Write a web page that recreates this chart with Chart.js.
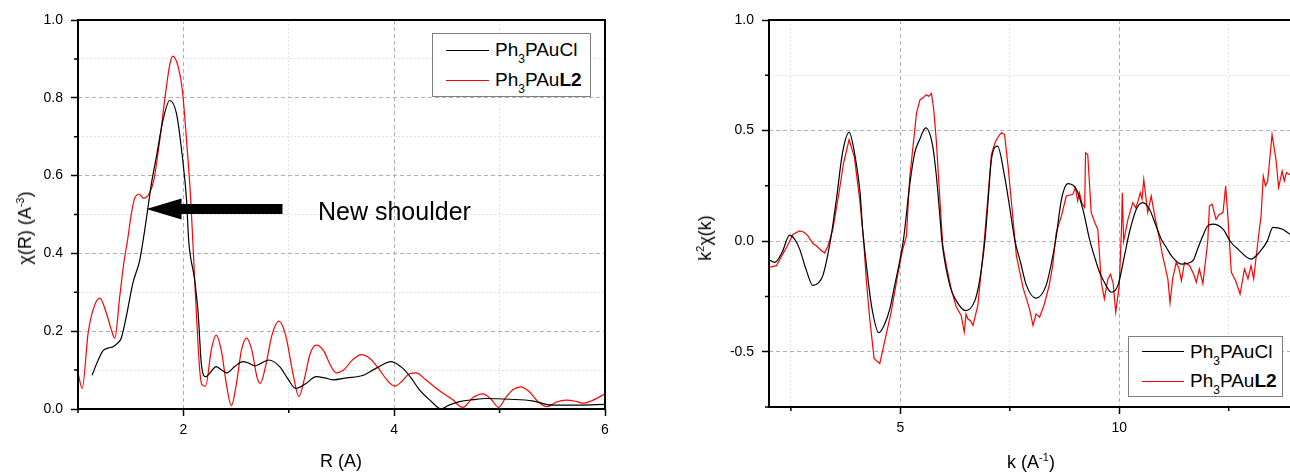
<!DOCTYPE html>
<html>
<head>
<meta charset="utf-8">
<script src="https://cdn.jsdelivr.net/npm/chart.js@4.4.1/dist/chart.umd.min.js"></script>
<style>
body { margin: 0; background: #fff; }
#wrap { position: relative; width: 1290px; height: 473px; overflow: hidden; font-family: "Liberation Sans", Arial, sans-serif; color: #000; }
canvas { position: absolute; top: 0; }
.t { position: absolute; white-space: nowrap; line-height: 1; font-size: 18px; }
.t sup { font-size: 11px; vertical-align: 7px; line-height: 0; }
.vt { transform: translate(-50%, -50%) rotate(-90deg); }
.leg { position: absolute; border: 1px solid #808080; background: #fff; box-sizing: border-box; }
.leg .ln { position: absolute; height: 0; border-top: 1.5px solid; }
.leg .tx { position: absolute; font-size: 19px; line-height: 19px; white-space: nowrap; }
.leg sub { font-size: 12px; vertical-align: -7px; line-height: 0; }
</style>
</head>
<body>
<div id="wrap">
  <canvas id="left" width="640" height="473" style="left:0"></canvas>
  <canvas id="right" width="600" height="473" style="left:690px"></canvas>

  <div class="t" style="left:341px;top:452px;transform:translateX(-50%)">R (A)</div>
  <div class="t vt" style="left:25px;top:228px">&chi;(R) (A<sup>-3</sup>)</div>
  <div class="t" style="left:1031px;top:453px;transform:translateX(-50%)">k (A<sup>-1</sup>)</div>
  <div class="t vt" style="left:705px;top:238px">k<sup>2</sup>&chi;(k)</div>

  <div class="t" style="left:318px;top:196px;font-size:25px;line-height:30px">New shoulder</div>

  <div class="leg" style="left:432px;top:33px;width:159px;height:64px">
    <div class="ln" style="left:13px;top:16px;width:43px;border-color:#000"></div>
    <div class="tx" style="left:62px;top:6px">Ph<sub>3</sub>PAuCl</div>
    <div class="ln" style="left:13px;top:46px;width:43px;border-color:#ff0000"></div>
    <div class="tx" style="left:62px;top:36px">Ph<sub>3</sub>PAu<b>L2</b></div>
  </div>
  <div class="leg" style="left:1128px;top:336px;width:155px;height:61px">
    <div class="ln" style="left:13px;top:14px;width:42px;border-color:#000"></div>
    <div class="tx" style="left:61px;top:5px">Ph<sub>3</sub>PAuCl</div>
    <div class="ln" style="left:13px;top:44px;width:42px;border-color:#ff0000"></div>
    <div class="tx" style="left:61px;top:34px">Ph<sub>3</sub>PAu<b>L2</b></div>
  </div>
</div>
<script>
// chi(R), Fourier transform magnitude
const clR = [[1.134,0.087],[1.19,0.125],[1.238,0.15],[1.29,0.157],[1.333,0.16],[1.37,0.168],[1.41,0.182],[1.46,0.24],[1.52,0.323],[1.586,0.383],[1.633,0.46],[1.665,0.52],[1.70,0.585],[1.744,0.649],[1.807,0.743],[1.87,0.793],[1.934,0.76],[1.99,0.649],[2.03,0.537],[2.05,0.434],[2.107,0.332],[2.14,0.246],[2.17,0.117],[2.21,0.083],[2.26,0.095],[2.31,0.109],[2.36,0.101],[2.41,0.093],[2.49,0.11],[2.565,0.122],[2.62,0.118],[2.676,0.111],[2.74,0.118],[2.81,0.126],[2.913,0.109],[2.99,0.078],[3.065,0.053],[3.16,0.065],[3.26,0.083],[3.34,0.08],[3.42,0.075],[3.55,0.08],[3.70,0.086],[3.83,0.105],[3.97,0.122],[4.08,0.105],[4.16,0.08],[4.24,0.049],[4.35,0.02],[4.445,0.0],[4.52,0.01],[4.62,0.019],[4.75,0.024],[4.87,0.027],[5.1,0.025],[5.31,0.021],[5.50,0.01],[5.75,0.01],[6.0,0.012]];
const l2R = [[1.0,0.093],[1.04,0.053],[1.096,0.195],[1.143,0.255],[1.207,0.285],[1.27,0.246],[1.317,0.203],[1.349,0.182],[1.396,0.289],[1.434,0.374],[1.47,0.434],[1.507,0.503],[1.538,0.542],[1.58,0.552],[1.62,0.542],[1.68,0.556],[1.72,0.589],[1.775,0.69],[1.83,0.81],[1.87,0.884],[1.90,0.907],[1.95,0.88],[1.99,0.82],[2.03,0.69],[2.07,0.537],[2.107,0.332],[2.155,0.10],[2.177,0.062],[2.21,0.059],[2.265,0.152],[2.31,0.19],[2.36,0.15],[2.41,0.06],[2.455,0.008],[2.50,0.06],[2.55,0.15],[2.60,0.182],[2.65,0.15],[2.70,0.08],[2.73,0.066],[2.78,0.11],[2.84,0.19],[2.906,0.226],[2.97,0.19],[3.04,0.09],[3.096,0.032],[3.15,0.08],[3.20,0.14],[3.26,0.164],[3.33,0.15],[3.387,0.117],[3.45,0.093],[3.52,0.1],[3.60,0.125],[3.687,0.14],[3.77,0.13],[3.85,0.105],[3.93,0.075],[4.003,0.059],[4.07,0.07],[4.14,0.09],[4.21,0.093],[4.30,0.075],[4.43,0.047],[4.55,0.025],[4.65,0.004],[4.75,0.03],[4.84,0.039],[4.92,0.025],[4.99,0.004],[5.06,0.03],[5.13,0.05],[5.20,0.057],[5.28,0.045],[5.36,0.02],[5.45,0.006],[5.54,0.018],[5.63,0.023],[5.72,0.02],[5.79,0.015],[5.88,0.022],[6.0,0.039]];

// k^2 chi(k)
const clK = [[2.0,-0.084],[2.13,-0.096],[2.3,-0.05],[2.47,0.027],[2.58,0.01],[2.70,-0.036],[2.85,-0.13],[3.0,-0.2],[3.12,-0.19],[3.23,-0.156],[3.40,0.0],[3.54,0.19],[3.68,0.40],[3.83,0.492],[3.97,0.38],[4.08,0.22],[4.14,0.05],[4.22,-0.1],[4.34,-0.29],[4.51,-0.414],[4.63,-0.38],[4.76,-0.306],[4.87,-0.2],[4.98,-0.096],[5.08,0.02],[5.21,0.249],[5.33,0.40],[5.44,0.459],[5.58,0.512],[5.74,0.429],[5.82,0.30],[5.90,0.12],[5.95,0.0],[6.13,-0.2],[6.28,-0.27],[6.49,-0.314],[6.70,-0.27],[6.80,-0.19],[6.93,0.0],[7.0,0.17],[7.08,0.369],[7.22,0.43],[7.38,0.294],[7.50,0.15],[7.61,0.009],[7.75,-0.1],[7.88,-0.2],[8.10,-0.258],[8.33,-0.2],[8.45,-0.1],[8.56,0.02],[8.68,0.189],[8.83,0.26],[9.02,0.234],[9.17,0.144],[9.32,0.009],[9.45,-0.08],[9.55,-0.141],[9.66,-0.186],[9.82,-0.231],[9.97,-0.2],[10.12,-0.066],[10.22,0.03],[10.39,0.144],[10.54,0.174],[10.69,0.144],[10.84,0.069],[10.96,0.009],[11.08,-0.03],[11.19,-0.066],[11.42,-0.104],[11.68,-0.089],[11.80,-0.03],[11.91,0.024],[12.02,0.069],[12.14,0.077],[12.37,0.054],[12.55,-0.005],[12.71,-0.036],[13.01,-0.081],[13.20,-0.051],[13.38,0.0],[13.51,0.062],[13.73,0.054],[13.9,0.031]];
const l2K = [[2.0,-0.119],[2.17,-0.111],[2.28,-0.07],[2.40,-0.029],[2.55,0.031],[2.70,0.046],[2.80,0.04],[2.89,0.024],[3.0,-0.01],[3.08,-0.021],[3.18,-0.04],[3.27,-0.054],[3.35,-0.021],[3.46,0.054],[3.6,0.22],[3.70,0.35],[3.83,0.459],[3.95,0.38],[4.07,0.19],[4.16,0.009],[4.22,-0.171],[4.30,-0.35],[4.40,-0.53],[4.53,-0.554],[4.64,-0.456],[4.79,-0.321],[4.95,-0.141],[5.05,-0.04],[5.14,0.024],[5.21,0.279],[5.37,0.58],[5.45,0.64],[5.52,0.648],[5.59,0.662],[5.65,0.655],[5.71,0.667],[5.76,0.6],[5.82,0.459],[5.90,0.2],[5.97,-0.021],[6.06,-0.12],[6.16,-0.216],[6.28,-0.299],[6.39,-0.336],[6.46,-0.411],[6.50,-0.33],[6.54,-0.351],[6.60,-0.36],[6.66,-0.381],[6.77,-0.291],[6.92,0.009],[7.00,0.2],[7.08,0.392],[7.17,0.45],[7.27,0.482],[7.31,0.49],[7.38,0.482],[7.46,0.339],[7.55,0.15],[7.65,-0.066],[7.80,-0.209],[7.95,-0.306],[8.03,-0.381],[8.10,-0.33],[8.18,-0.344],[8.29,-0.284],[8.40,-0.2],[8.48,-0.111],[8.56,0.039],[8.68,0.114],[8.79,0.204],[8.94,0.212],[9.00,0.242],[9.05,0.182],[9.09,0.219],[9.15,0.17],[9.21,0.152],[9.23,0.40],[9.28,0.392],[9.36,0.129],[9.45,0.08],[9.51,0.054],[9.59,-0.186],[9.66,-0.261],[9.74,-0.171],[9.80,-0.15],[9.86,-0.19],[9.92,-0.321],[10.0,-0.2],[10.05,0.05],[10.07,0.219],[10.10,0.0],[10.2,0.1],[10.31,0.174],[10.38,0.15],[10.43,0.182],[10.48,0.219],[10.52,0.19],[10.56,0.279],[10.65,0.129],[10.73,0.204],[10.81,0.114],[10.92,0.009],[10.99,-0.066],[11.11,-0.171],[11.16,-0.279],[11.22,-0.171],[11.30,-0.096],[11.36,-0.12],[11.42,-0.179],[11.49,-0.096],[11.61,-0.111],[11.70,-0.15],[11.76,-0.186],[11.83,-0.126],[11.91,-0.193],[12.02,-0.006],[12.06,0.159],[12.12,0.167],[12.21,0.099],[12.28,0.12],[12.37,0.129],[12.43,0.249],[12.48,0.114],[12.56,-0.141],[12.66,-0.18],[12.76,-0.239],[12.86,-0.126],[12.94,-0.171],[13.01,-0.111],[13.07,-0.171],[13.13,-0.066],[13.20,0.054],[13.24,0.114],[13.29,0.294],[13.34,0.25],[13.39,0.272],[13.49,0.482],[13.58,0.369],[13.64,0.242],[13.72,0.317],[13.77,0.272],[13.82,0.31],[13.9,0.3]];

// arrow annotation (data coords): tail -> tip
const arrowTail = [2.94, 0.514];
const arrowTip = [1.65, 0.514];

const pts = a => a.map(p => ({x: p[0], y: p[1]}));
const tickFont = {family: 'Liberation Sans', size: 14};

function axis(min, max, step, isMajor, fmt, size, horiz) {
    return {
        type: 'linear', min: min, max: max,
        afterFit: s => { if (horiz) s.height = size; else s.width = size; },
        ticks: {
            stepSize: step, includeBounds: false, autoSkip: false, maxRotation: 0,
            color: '#000', font: tickFont, padding: horiz ? 6 : 8,
            callback: v => isMajor(v) ? fmt(v) : ''
        },
        grid: {
            color: c => isMajor(c.tick.value) ? '#b0b0b0' : '#e2e2e2',
            lineWidth: 1, tickLength: 7, tickWidth: 1.5,
            tickColor: c => isMajor(c.tick.value) ? '#000' : 'rgba(0,0,0,0)'
        },
        border: {display: false, dash: c => isMajor(c.tick.value) ? [4, 3] : [2, 2]}
    };
}

// frame + short minor ticks
const frame = {
    id: 'frame',
    afterDraw(chart, args, opts) {
        const ctx = chart.ctx, a = chart.chartArea;
        ctx.save();
        ctx.strokeStyle = '#000';
        ctx.lineWidth = 1.5;
        const xs = chart.scales.x, ys = chart.scales.y;
        ctx.beginPath();
        for (const t of xs.ticks) {
            if (opts.majX(t.value)) continue;
            const px = xs.getPixelForValue(t.value);
            ctx.moveTo(px, a.bottom); ctx.lineTo(px, a.bottom + 4);
        }
        for (const t of ys.ticks) {
            if (opts.majY(t.value)) continue;
            const py = ys.getPixelForValue(t.value);
            ctx.moveTo(a.left, py); ctx.lineTo(a.left - 4, py);
        }
        ctx.stroke();
        ctx.lineWidth = 2;
        ctx.beginPath();
        if (opts.right) {
            ctx.moveTo(a.left, a.bottom); ctx.lineTo(a.left, a.top); ctx.lineTo(a.right, a.top);
            ctx.lineTo(a.right, a.bottom); ctx.lineTo(a.left, a.bottom);
        } else {
            ctx.moveTo(a.right + 2, a.top); ctx.lineTo(a.left, a.top);
            ctx.lineTo(a.left, a.bottom); ctx.lineTo(a.right + 2, a.bottom);
        }
        ctx.stroke();
        ctx.restore();
    }
};

const arrow = {
    id: 'arrow',
    afterDatasetsDraw(chart) {
        const ctx = chart.ctx, xs = chart.scales.x, ys = chart.scales.y;
        const x0 = xs.getPixelForValue(arrowTail[0]);
        const x1 = xs.getPixelForValue(arrowTip[0]);
        const y = ys.getPixelForValue(arrowTip[1]);
        const hl = 35, hw = 10.5, sw = 5;
        ctx.save();
        ctx.fillStyle = '#000';
        ctx.beginPath();
        ctx.moveTo(x0, y - sw); ctx.lineTo(x1 + hl, y - sw); ctx.lineTo(x1 + hl, y - hw);
        ctx.lineTo(x1, y); ctx.lineTo(x1 + hl, y + hw); ctx.lineTo(x1 + hl, y + sw);
        ctx.lineTo(x0, y + sw);
        ctx.closePath();
        ctx.fill();
        ctx.restore();
    }
};

const majLX = v => Math.abs(v % 2) < 1e-9;
const majLY = v => Math.round(v * 10) % 2 === 0;
const majRX = v => Math.abs(v % 5) < 1e-9;
const majRY = v => Math.abs(Math.round(v * 4)) % 2 === 0;

const base = {
    responsive: false, animation: false, devicePixelRatio: 1,
    plugins: {legend: {display: false}, tooltip: {enabled: false}},
    elements: {point: {radius: 0}, line: {borderWidth: 1.2}}
};

new Chart(document.getElementById('left'), {
    type: 'scatter',
    data: {datasets: [
        {label: 'Ph3PAuCl', data: pts(clR), showLine: true, borderColor: '#000', cubicInterpolationMode: 'monotone'},
        {label: 'Ph3PAuL2', data: pts(l2R), showLine: true, borderColor: '#ff0000', cubicInterpolationMode: 'monotone'}
    ]},
    options: Object.assign({}, base, {
        layout: {padding: {top: 20, right: 35, left: 0, bottom: 0}},
        scales: {
            x: axis(1, 6, 1, majLX, v => String(v), 64, true),
            y: axis(0, 1, 0.1, majLY, v => v.toFixed(1), 78, false)
        },
        plugins: Object.assign({}, base.plugins, {frame: {majX: majLX, majY: majLY, right: true}})
    }),
    plugins: [arrow, frame]
});

new Chart(document.getElementById('right'), {
    type: 'scatter',
    data: {datasets: [
        {label: 'Ph3PAuCl', data: pts(clK), showLine: true, borderColor: '#000', cubicInterpolationMode: 'monotone'},
        {label: 'Ph3PAuL2', data: pts(l2K), showLine: true, borderColor: '#ff0000', tension: 0}
    ]},
    options: Object.assign({}, base, {
        layout: {padding: {top: 20, right: 0, left: 0, bottom: 0}},
        scales: {
            x: axis(2, 13.9, 2.5, majRX, v => String(v), 66, true),
            y: axis(-0.75, 1, 0.25, majRY, v => v.toFixed(1), 79, false)
        },
        plugins: Object.assign({}, base.plugins, {frame: {majX: majRX, majY: majRY, right: false}})
    }),
    plugins: [frame]
});
</script>
</body>
</html>
